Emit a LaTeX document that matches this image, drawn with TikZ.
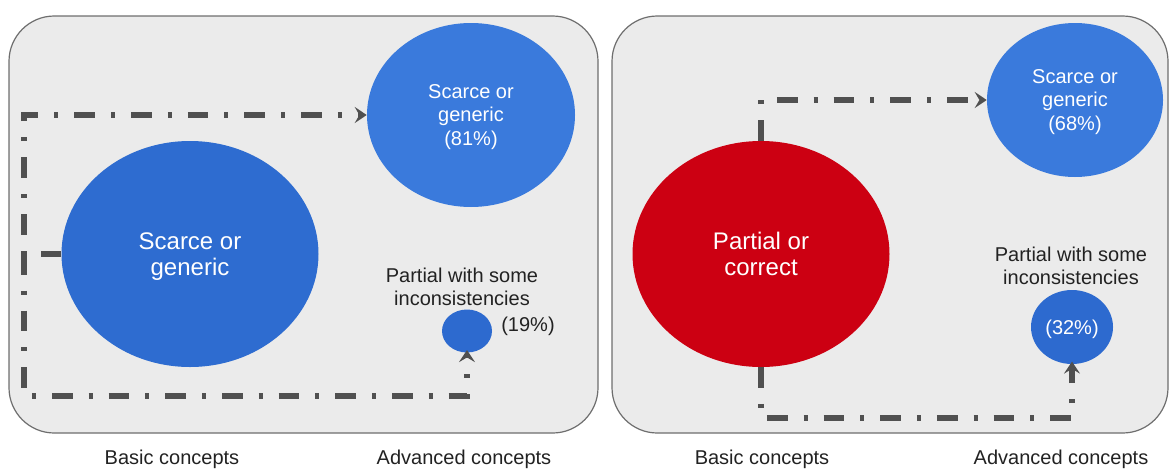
\documentclass[tikz,border=0pt]{standalone}
\usepackage{fontspec}
\setmainfont{Liberation Sans}
\usetikzlibrary{shapes.geometric,arrows.meta}
\definecolor{panelfill}{HTML}{EBEBEB}
\definecolor{panelline}{HTML}{6E6E6E}
\definecolor{flowcol}{HTML}{505050}
\definecolor{bluebig}{HTML}{2E6CD0}
\definecolor{bluetop}{HTML}{3A7ADC}
\definecolor{bluesmall}{HTML}{2D6ACF}
\definecolor{redbig}{HTML}{CC0012}
\definecolor{txtgray}{HTML}{222222}
\begin{document}
\begin{tikzpicture}[x=0.75pt,y=-0.75pt,
  panel/.style={draw=panelline, line width=0.9pt, fill=panelfill, rounded corners=34pt},
  bubble/.style={ellipse, inner sep=0pt, text=white, align=center, text depth=0pt},
  bigtxt/.style={font=\fontsize{18}{19.5}\selectfont},
  midtxt/.style={font=\fontsize{15}{17.5}\selectfont},
  lbl/.style={text=txtgray, align=center, font=\fontsize{15}{17.2}\selectfont},
  axis/.style={text=txtgray, font=\fontsize{15}{17}\selectfont},
  flow/.style={draw=flowcol, line width=3.8pt, line cap=butt,
    dash pattern=on 15.5pt off 12pt on 3pt off 12pt,
    -{Stealth[length=9pt,width=12pt,inset=3.5pt]}}]
\useasboundingbox (0,0) rectangle (1170,468);

% panels
\draw[panel] (9,16) rectangle (598,433);
\draw[panel] (612,16) rectangle (1168,433);

% left panel
\node[bubble, bigtxt, fill=bluebig, minimum width=257*0.75pt, minimum height=226*0.75pt] (big) at (190,254) {Scarce or\\generic};
\node[bubble, midtxt, fill=bluetop, minimum width=208*0.75pt, minimum height=184*0.75pt] (top) at (471,115) {Scarce or\\generic\\(81\%)};
\node[bubble, fill=bluesmall, minimum width=50*0.75pt, minimum height=43*0.75pt] (small) at (467,331) {};
\node[lbl] (lblL) at (462,287) {Partial with some\\inconsistencies};
\node[lbl] (pctL) at (528,326) {(19\%)};
\coordinate (Lj) at (24,254);
\coordinate (Lb) at (24,396);
\draw[flow] (big.west) -- (Lj) |- (top.west);
\draw[flow] (Lj) -- (Lb) -| ([yshift=2pt]small.south);

% right panel
\node[bubble, bigtxt, fill=redbig, minimum width=257*0.75pt, minimum height=226*0.75pt] (red) at (761,254) {Partial or\\correct};
\node[bubble, midtxt, fill=bluetop, minimum width=176*0.75pt, minimum height=154*0.75pt] (top2) at (1075,100) {Scarce or\\generic\\(68\%)};
\node[bubble, midtxt, fill=bluesmall, minimum width=82*0.75pt, minimum height=74*0.75pt] (small2) at (1072,327) {(32\%)};
\node[lbl] (lblR) at (1071,266) {Partial with some\\inconsistencies};
\coordinate (Rb) at (761,418);
\draw[flow] (red.north) |- (top2.west);
\draw[flow] (red.south) -- (Rb) -| ([yshift=2pt]small2.south);

% axis labels
\node[axis] (b1) at (172,459) {Basic concepts};
\node[axis] (a1) at (464,459) {Advanced concepts};
\node[axis] (b2) at (762,459) {Basic concepts};
\node[axis] (a2) at (1061,459) {Advanced concepts};
\end{tikzpicture}
\end{document}
